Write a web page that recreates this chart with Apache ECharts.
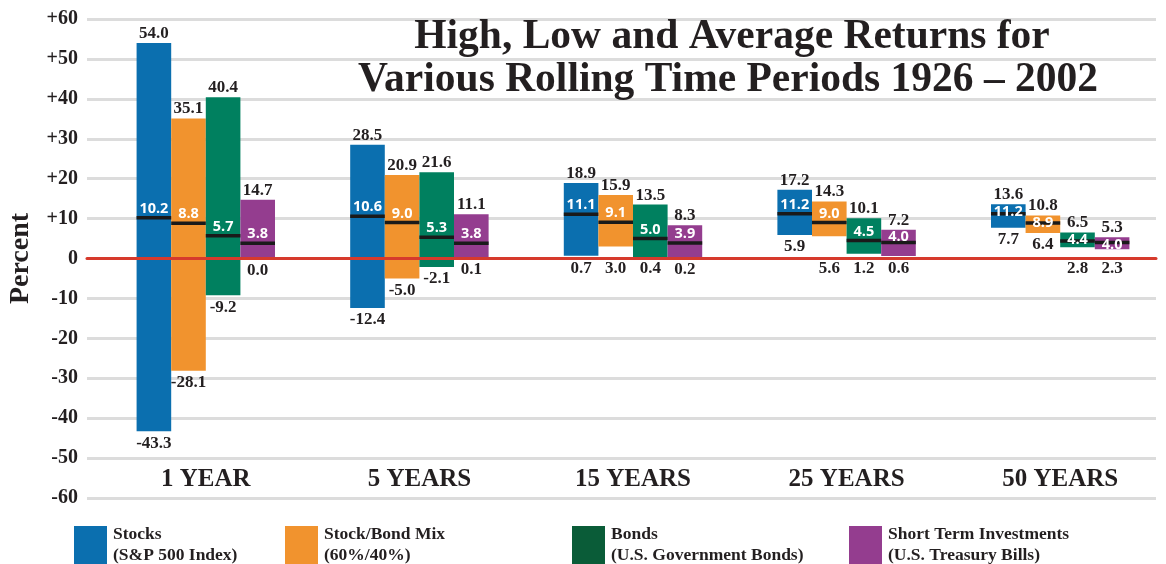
<!DOCTYPE html>
<html>
<head>
<meta charset="utf-8">
<script src="https://cdn.jsdelivr.net/npm/echarts@6/dist/echarts.min.js"></script>
<style>
  html, body { margin: 0; padding: 0; background: #ffffff; }
  #chart { width: 1166px; height: 564px; }
</style>
</head>
<body>
<div id="chart"></div>
<script>
// Rolling-period categories
const categories = ['1 YEAR', '5 YEARS', '15 YEARS', '25 YEARS', '50 YEARS'];

// Stocks (S&P 500 Index)
const stocksHigh = [54.0, 28.5, 18.9, 17.2, 13.6];
const stocksAvg  = [10.2, 10.6, 11.1, 11.2, 11.2];
const stocksLow  = [-43.3, -12.4, 0.7, 5.9, 7.7];

// Stock/Bond Mix (60%/40%)
const mixHigh = [35.1, 20.9, 15.9, 14.3, 10.8];
const mixAvg  = [8.8, 9.0, 9.1, 9.0, 8.9];
const mixLow  = [-28.1, -5.0, 3.0, 5.6, 6.4];

// Bonds (U.S. Government Bonds)
const bondsHigh = [40.4, 21.6, 13.5, 10.1, 6.5];
const bondsAvg  = [5.7, 5.3, 5.0, 4.5, 4.4];
const bondsLow  = [-9.2, -2.1, 0.4, 1.2, 2.8];

// Short Term Investments (U.S. Treasury Bills)
const billsHigh = [14.7, 11.1, 8.3, 7.2, 5.3];
const billsAvg  = [3.8, 3.8, 3.9, 4.0, 4.0];
const billsLow  = [0.0, 0.1, 0.2, 0.6, 2.3];

// Percent axis ticks
const yMin = -60, yMax = 60, yStep = 10;

const SERIF = '"Liberation Serif", "DejaVu Serif", serif';
const INK = '#231f20';

const assets = [
  { name: 'Stocks', sub: '(S&P 500 Index)', color: '#0b6faf', legendColor: '#0b6faf', high: stocksHigh, avg: stocksAvg, low: stocksLow },
  { name: 'Stock/Bond Mix', sub: '(60%/40%)', color: '#f1932e', legendColor: '#f1932e', high: mixHigh, avg: mixAvg, low: mixLow },
  { name: 'Bonds', sub: '(U.S. Government Bonds)', color: '#00805f', legendColor: '#0a5c38', high: bondsHigh, avg: bondsAvg, low: bondsLow },
  { name: 'Short Term Investments', sub: '(U.S. Treasury Bills)', color: '#943d8f', legendColor: '#943d8f', high: billsHigh, avg: billsAvg, low: billsLow }
];

const chart = echarts.init(document.getElementById('chart'), null, { renderer: 'canvas' });

function makeRenderItem(seriesIdx, color) {
  return function (params, api) {
    const cat = api.value(0);
    const lo = api.value(1), hi = api.value(2), avg = api.value(3);
    const band = api.size([1, 0])[0];
    const bw = band * 0.162;
    const cx = api.coord([cat, 0])[0] + (seriesIdx - 1.5) * bw;
    const zeroY = api.coord([cat, 0])[1];
    const topY = api.coord([cat, hi])[1];
    const botY = api.coord([cat, lo])[1];
    const avgY = api.coord([cat, avg])[1];

    // low label sits below the bar, pushed clear of the zero line when needed
    let lowLabelY = botY + 12;
    if (lowLabelY > zeroY - 11 && lowLabelY < zeroY + 10) lowLabelY = zeroY + 10;
    // average label sits above the line but stays inside short bars
    const avgLabelY = Math.max(avgY - 9, topY + 7.5);

    const textEl = (txt, y, font, fill) => ({
      type: 'text',
      z2: 20,
      style: {
        text: txt, x: cx, y: y,
        align: 'center', verticalAlign: 'middle',
        textAlign: 'center', textVerticalAlign: 'middle',
        font: font, fill: fill
      }
    });

    return {
      type: 'group',
      children: [
        { type: 'rect', z2: 1, shape: { x: cx - bw / 2, y: topY, width: bw, height: botY - topY }, style: { fill: color } },
        { type: 'rect', z2: 5, shape: { x: cx - bw / 2, y: avgY - 1.75, width: bw, height: 3.5 }, style: { fill: '#1a1a1a' } },
        textEl(hi.toFixed(1), topY - 9.5, 'bold 17px ' + SERIF, INK),
        textEl(lo.toFixed(1), lowLabelY, 'bold 17px ' + SERIF, INK),
        textEl(avg.toFixed(1), avgLabelY, 'bold 14.5px "Open Sans", "Noto Sans", sans-serif', '#ffffff')
      ]
    };
  };
}

const series = assets.map((a, i) => ({
  name: a.name,
  type: 'custom',
  xAxisIndex: 1,
  yAxisIndex: 1,
  itemStyle: { color: a.color },
  renderItem: makeRenderItem(i, a.color),
  data: categories.map((c, k) => [k, a.low[k], a.high[k], a.avg[k]]),
  z: 2
}));

const legendLefts = [74, 285, 572, 849];
const legends = assets.map((a, i) => ({
  left: legendLefts[i],
  top: 524,
  padding: 0,
  orient: 'horizontal',
  icon: 'rect',
  itemWidth: 33,
  itemHeight: 38,
  selectedMode: false,
  data: [{ name: a.name, itemStyle: { color: a.legendColor } }],
  formatter: () => a.name + '\n' + a.sub,
  textStyle: { fontFamily: SERIF, fontWeight: 'bold', fontSize: 17.5, lineHeight: 21, color: INK, padding: [0, 0, 0, 1] }
}));

const option = {
  backgroundColor: '#ffffff',
  animation: false,
  grid: [
    { left: 87, right: 10, top: 19, bottom: 66, outerBoundsMode: 'none', containLabel: false },
    { left: 99, width: 1068, top: 19, bottom: 66, outerBoundsMode: 'none', containLabel: false }
  ],
  xAxis: [
    {
      gridIndex: 0, type: 'value', min: 0, max: 1, z: 10,
      axisLine: { show: true, onZero: true, lineStyle: { color: '#d63a2c', width: 3 } },
      axisTick: { show: false }, axisLabel: { show: false }, splitLine: { show: false }
    },
    {
      gridIndex: 1, type: 'category', data: categories,
      axisLine: { show: false }, axisTick: { show: false }, splitLine: { show: false },
      axisLabel: { margin: -31, fontFamily: SERIF, fontWeight: 'bold', fontSize: 25, color: INK }
    }
  ],
  yAxis: [
    {
      gridIndex: 0, type: 'value', min: yMin, max: yMax, interval: yStep,
      name: 'Percent', nameLocation: 'middle', nameGap: 52, nameRotate: 90,
      nameTextStyle: { fontFamily: SERIF, fontWeight: 'bold', fontSize: 28, color: INK },
      axisLine: { show: false }, axisTick: { show: false },
      axisLabel: {
        margin: 9, fontFamily: SERIF, fontWeight: 'bold', fontSize: 20, color: INK,
        formatter: v => (v > 0 ? '+' + v : String(v))
      },
      splitLine: { show: true, lineStyle: { color: '#dcdcdc', width: 3 } }
    },
    {
      gridIndex: 1, type: 'value', min: yMin, max: yMax, interval: yStep,
      show: false, splitLine: { show: false }
    }
  ],
  legend: legends,
  graphic: [
    { type: 'text', x: 732, y: 37, z: 20, style: { text: 'High, Low and Average Returns for', align: 'center', verticalAlign: 'middle', textAlign: 'center', textVerticalAlign: 'middle', font: 'bold 41.5px ' + SERIF, fill: INK } },
    { type: 'text', x: 728, y: 80, z: 20, style: { text: 'Various Rolling Time Periods 1926 \u2013 2002', align: 'center', verticalAlign: 'middle', textAlign: 'center', textVerticalAlign: 'middle', font: 'bold 41.5px ' + SERIF, fill: INK } }
  ],
  series: series
};

chart.setOption(option);
</script>
</body>
</html>
